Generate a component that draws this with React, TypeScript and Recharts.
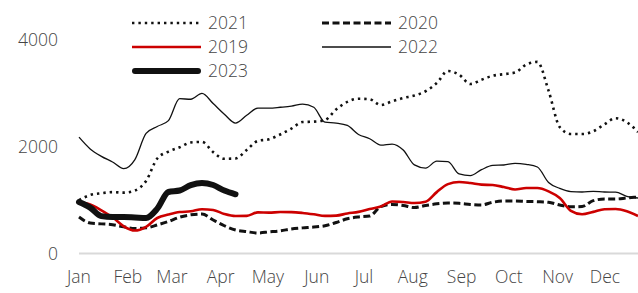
import { LineChart, Line, XAxis, YAxis, ReferenceLine, Legend } from "recharts";

// weekly samples, Jan 1 .. ~Dec 21
const weekIdx = Array.from({ length: 51 }, (_, i) => i);
const DAYS_PER_STEP = 7.1;

const monthStarts = [0, 31, 59, 90, 120, 151, 181, 212, 243, 273, 304, 334];
const monthNames = ["Jan", "Feb", "Mar", "Apr", "May", "Jun", "Jul", "Aug", "Sep", "Oct", "Nov", "Dec"];
const yTicks = [0, 2000, 4000];

const s2021 = [
  1000, 1096, 1130, 1150, 1140, 1180, 1360, 1780, 1910, 1990, 2080, 2090, 1900, 1775, 1780, 1940,
  2110, 2140, 2230, 2340, 2463, 2470, 2500, 2700, 2840, 2900, 2890, 2780, 2850, 2913, 2960, 3040,
  3193, 3420, 3350, 3175, 3255, 3330, 3360, 3390, 3540, 3590, 3050, 2369, 2240, 2238, 2290, 2420,
  2535, 2460, 2276,
];
const s2020 = [
  684, 571, 555, 540, 500, 470, 480, 534, 600, 680, 725, 740, 627, 520, 440, 410, 385, 405, 425,
  460, 480, 496, 520, 580, 650, 684, 702, 880, 920, 900, 860, 900, 930, 945, 940, 920, 910, 960,
  983, 983, 975, 970, 960, 908, 875, 880, 990, 1021, 1021, 1040, 1058,
];
const s2019 = [
  965, 920, 810, 680, 510, 430, 500, 665, 730, 777, 790, 830, 815, 740, 702, 705, 770, 765, 777,
  775, 760, 735, 705, 710, 750, 780, 833, 880, 975, 965, 946, 970, 1150, 1300, 1339, 1320, 1290,
  1283, 1245, 1200, 1227, 1227, 1165, 1040, 800, 735, 780, 830, 833, 790, 702,
];
const s2022 = [
  2180, 1960, 1820, 1715, 1590, 1760, 2250, 2380, 2490, 2900, 2890, 3000, 2810, 2610, 2444, 2590,
  2725, 2725, 2740, 2760, 2800, 2740, 2460, 2444, 2400, 2230, 2150, 2030, 2050, 1940, 1660, 1600,
  1730, 1720, 1490, 1460, 1570, 1650, 1658, 1690, 1670, 1620, 1330, 1220, 1160, 1152, 1165, 1152,
  1150, 1070, 1040,
];
const s2023 = [965, 860, 700, 684, 684, 675, 665, 840, 1152, 1180, 1280, 1320, 1283, 1180, 1110];

const data = weekIdx.map((i) => ({
  day: i * DAYS_PER_STEP,
  y2021: s2021[i],
  y2020: s2020[i],
  y2019: s2019[i],
  y2022: s2022[i],
  y2023: i < s2023.length ? s2023[i] : null,
}));

const TEXT = "#454545";

const series = [
  { key: "y2020", name: "2020", color: "#111", width: 3, dash: "7 3.5", cap: "butt" },
  { key: "y2021", name: "2021", color: "#111", width: 2.6, dash: "2.4 4", cap: "butt" },
  { key: "y2022", name: "2022", color: "#111", width: 1.3, dash: undefined, cap: "butt" },
  { key: "y2019", name: "2019", color: "#cc0000", width: 2.6, dash: undefined, cap: "butt" },
  { key: "y2023", name: "2023", color: "#111", width: 6, dash: undefined, cap: "round" },
];

// legend placement: [column x, row y] by series
const legendPos: Record<string, [number, number]> = {
  y2021: [132, 23],
  y2020: [322, 23],
  y2019: [132, 47],
  y2022: [322, 47],
  y2023: [132, 71],
};

function ChartLegend() {
  return (
    <svg width={638} height={85} style={{ display: "block" }}>
      {series.map((s) => {
        const [x, y] = legendPos[s.key];
        return (
          <g key={s.key}>
            <line
              x1={x + (s.cap === "round" ? 3 : 0)}
              x2={x + 69 - (s.cap === "round" ? 3 : 0)}
              y1={y}
              y2={y}
              stroke={s.color}
              strokeWidth={s.width}
              strokeDasharray={s.dash}
              strokeLinecap={s.cap as any}
            />
            <text x={x + 76} y={y} dy="0.35em" fill={TEXT} fontSize={17.5} fontWeight={300}>
              {s.name}
            </text>
          </g>
        );
      })}
    </svg>
  );
}

export default function App() {
  return (
    <div
      style={{
        position: "absolute",
        left: 0,
        top: 0,
        width: 638,
        height: 293,
        background: "#fff",
        fontFamily: "'Open Sans', sans-serif",
      }}
    >
      <LineChart width={638} height={293} data={data} margin={{ top: 40, right: 0, bottom: 0, left: 0 }}>
        <XAxis
          dataKey="day"
          type="number"
          domain={[0, 355]}
          ticks={monthStarts}
          tickFormatter={(v: number) => monthNames[monthStarts.indexOf(v)]}
          interval={0}
          axisLine={false}
          tickLine={false}
          tickSize={0}
          tickMargin={17}
          height={39.5}
          tick={{ fill: TEXT, fontSize: 17.5, fontWeight: 300 }}
        />
        <YAxis
          domain={[0, 4000]}
          ticks={yTicks}
          width={79}
          axisLine={false}
          tickLine={false}
          tickSize={0}
          tickMargin={21}
          tick={{ fill: TEXT, fontSize: 17.5, fontWeight: 300 }}
        />
        <ReferenceLine y={0} stroke="#d9d9d9" strokeWidth={2} />
        <Legend
          layout="horizontal"
          verticalAlign="middle"
          align="center"
          wrapperStyle={{ top: 0, left: 0, width: 638 }}
          content={() => <ChartLegend />}
        />
        {series.map((s) => (
          <Line
            key={s.key}
            dataKey={s.key}
            name={s.name}
            type="monotone"
            stroke={s.color}
            strokeWidth={s.width}
            strokeDasharray={s.dash}
            strokeLinecap={s.cap as any}
            strokeLinejoin="round"
            dot={false}
            activeDot={false}
            connectNulls={false}
            isAnimationActive={false}
          />
        ))}
      </LineChart>
    </div>
  );
}
